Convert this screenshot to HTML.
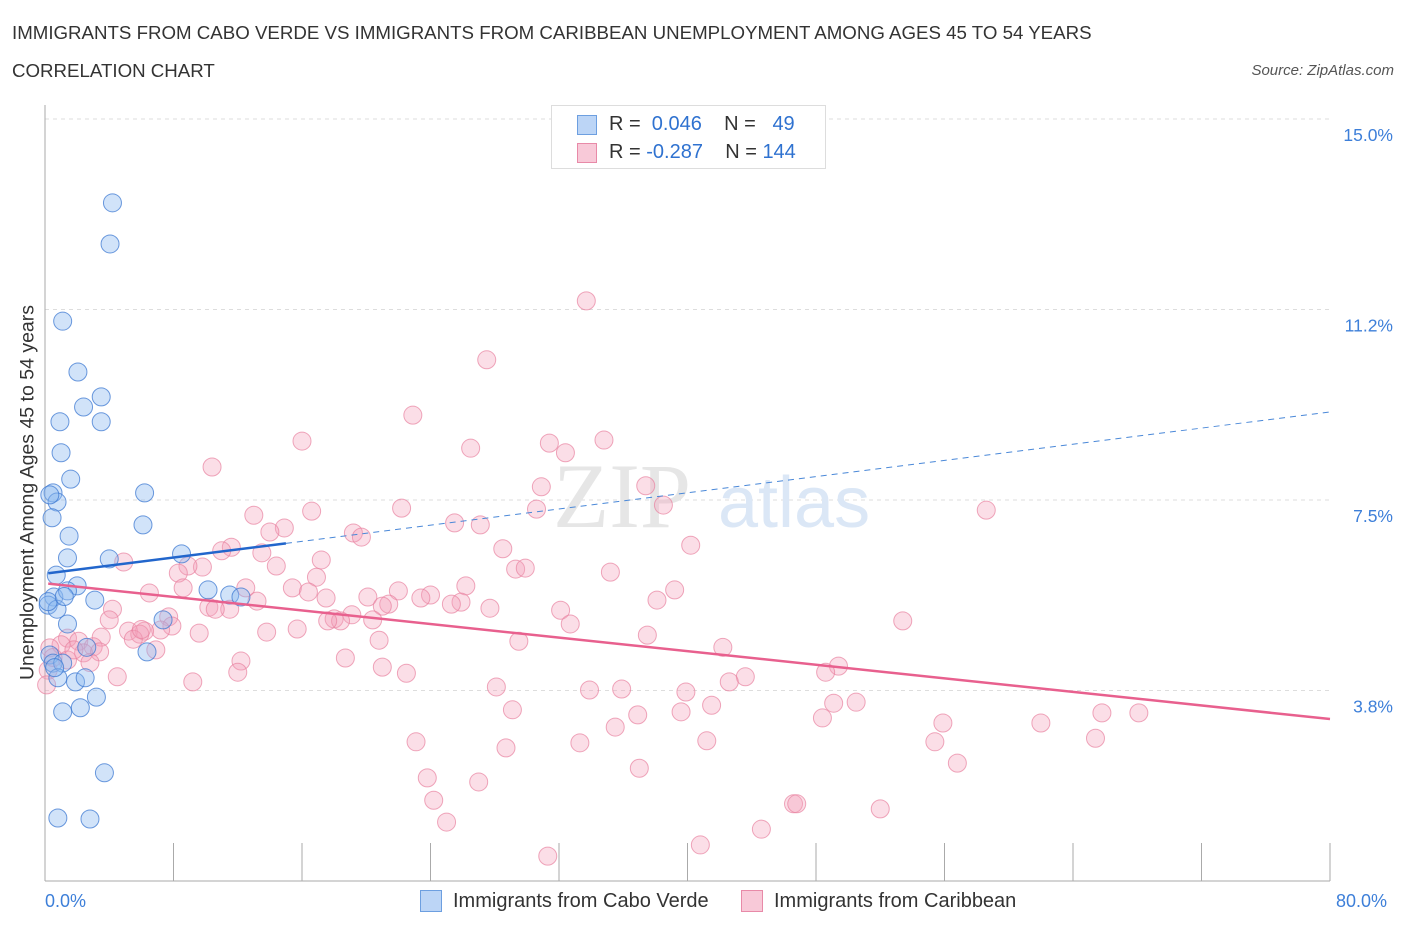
<!DOCTYPE html>
<html><head><meta charset="utf-8">
<style>
body{margin:0;background:#fff;font-family:"Liberation Sans",sans-serif;}
#wrap{position:relative;width:1406px;height:930px;overflow:hidden;}
.t{position:absolute;white-space:nowrap;}
</style></head>
<body>
<div id="wrap">
<div class="t" style="left:12px;top:22px;font-size:18.7px;color:#333;">IMMIGRANTS FROM CABO VERDE VS IMMIGRANTS FROM CARIBBEAN UNEMPLOYMENT AMONG AGES 45 TO 54 YEARS</div>
<div class="t" style="left:12px;top:60px;font-size:18.7px;color:#333;">CORRELATION CHART</div>
<div class="t" style="right:12px;top:62px;font-size:15px;color:#555;font-style:italic;">Source: ZipAtlas.com</div>
<svg id="svg" width="1406" height="930" style="position:absolute;left:0;top:0"></svg>
</div>
<script>
const blueX=[4.2,4.05,1.1,2.05,3.5,2.4,0.93,3.5,1.0,1.6,0.5,0.75,6.2,0.44,6.1,1.5,1.4,4.0,8.5,0.7,2.0,0.55,1.4,3.1,10.15,11.5,12.2,0.2,0.75,1.4,7.35,6.35,0.3,2.6,0.5,1.1,0.8,1.9,2.5,3.2,1.1,2.2,3.7,0.8,2.8,0.2,0.6,0.3,1.2];
const blueY=[13.35,12.54,11.02,10.02,9.53,9.33,9.04,9.04,8.43,7.91,7.64,7.46,7.64,7.15,7.01,6.79,6.36,6.34,6.44,6.02,5.81,5.59,5.71,5.53,5.73,5.63,5.59,5.43,5.35,5.06,5.14,4.51,4.45,4.6,4.29,4.29,4.0,3.92,4.0,3.62,3.33,3.41,2.13,1.24,1.22,5.5,4.2,7.6,5.6];
const pinkX=[33.7,27.5,22.9,16.0,31.4,34.8,26.5,10.4,32.4,30.9,37.4,38.5,22.2,16.6,13.0,30.6,58.6,25.5,27.1,14.9,14.0,19.2,19.7,11.6,11.0,13.5,40.2,28.5,17.2,4.9,14.4,9.8,8.9,29.3,29.9,35.2,8.3,16.9,8.6,12.5,15.4,26.2,39.2,16.4,6.5,22.0,24.0,20.1,23.4,17.5,13.2,38.1,25.9,25.3,21.4,21.0,10.2,11.5,10.6,4.2,27.7,32.1,19.1,7.7,18.0,18.4,17.6,20.4,4.0,53.4,32.7,7.9,7.2,5.2,6.2,13.8,15.7,9.6,5.9,37.5,3.5,5.5,1.4,2.1,29.5,20.8,1.0,3.0,42.2,6.9,2.4,0.3,3.4,18.7,1.4,12.2,49.4,48.6,21.0,12.0,22.5,4.5,43.6,42.6,9.2,28.1,33.9,35.9,39.9,49.1,50.5,41.5,29.1,39.6,36.9,65.8,68.1,48.4,55.9,35.5,62.0,65.4,55.4,23.1,41.2,33.3,28.7,56.8,37.0,23.8,27.0,24.2,46.6,46.8,52.0,25.0,44.6,40.8,31.3,0.2,0.1,0.5,1.8,2.8,6.0];
const pinkY=[11.42,10.26,9.17,8.66,8.62,8.68,8.52,8.15,8.43,7.76,7.78,7.4,7.34,7.28,7.2,7.32,7.3,7.05,7.01,6.95,6.87,6.85,6.77,6.57,6.5,6.46,6.61,6.54,6.32,6.28,6.2,6.18,6.2,6.14,6.16,6.08,6.06,5.98,5.77,5.77,5.77,5.81,5.73,5.69,5.67,5.71,5.63,5.59,5.57,5.57,5.51,5.53,5.49,5.45,5.45,5.41,5.39,5.35,5.35,5.35,5.37,5.33,5.24,5.2,5.16,5.12,5.12,5.14,5.14,5.12,5.06,5.02,4.94,4.92,4.92,4.9,4.96,4.88,4.86,4.84,4.8,4.76,4.78,4.72,4.72,4.74,4.65,4.61,4.6,4.55,4.49,4.59,4.51,4.39,4.35,4.33,4.23,4.11,4.21,4.11,4.09,4.02,4.02,3.92,3.92,3.82,3.76,3.78,3.72,3.5,3.52,3.46,3.37,3.33,3.27,3.31,3.31,3.21,3.11,3.03,3.11,2.81,2.74,2.74,2.76,2.72,2.62,2.32,2.22,2.03,1.95,1.59,1.52,1.52,1.42,1.16,1.02,0.71,0.49,4.15,3.86,4.4,4.55,4.3,4.95];
const yTicks=[3.75,7.5,11.25,15];
const yTickLabels=["3.8%","7.5%","11.2%","15.0%"];
const blueTrend=[6.05,0.0398];
const pinkTrend=[5.86,-0.0334];

const X0=45,X1=1330,YB=881,PPU=50.8;
const xs=v=>X0+(X1-X0)*v/80;
const ys=v=>YB-v*PPU;
const svg=document.getElementById('svg');
const NS='http://www.w3.org/2000/svg';
function mk(tag,attrs){const e=document.createElementNS(NS,tag);for(const k in attrs)e.setAttribute(k,attrs[k]);svg.appendChild(e);return e;}

yTicks.forEach((t,i)=>{
  const g=mk('line',{x1:X0,x2:X1,y1:ys(t),y2:ys(t),stroke:'#ddd','stroke-dasharray':'4,4'});
  
  
  const tx=mk('text',{x:1393,y:ys(t)+22,'text-anchor':'end','font-size':17.5,fill:'#3d7fd9','font-family':'Liberation Sans, sans-serif'});
  tx.textContent=yTickLabels[i];
  
  
});
const ax=mk('line',{x1:X0,x2:X0,y1:105,y2:YB,stroke:'#aaa'});


const bx=mk('line',{x1:X0,x2:X1,y1:YB,y2:YB,stroke:'#aaa'});


for(let i=0;i<=10;i++){
  const tk=mk('line',{x1:xs(i*8),x2:xs(i*8),y1:YB,y2:YB-38,stroke:'#aaa'});
  
  
}
const wm=mk('text',{x:553,y:527,'font-size':92,fill:'#e6e6e6','font-family':'Liberation Serif, serif'});
wm.textContent='ZIP';


const wm2=mk('text',{x:718,y:527,'font-size':72,fill:'#dbe7f6','font-family':'Liberation Sans, sans-serif'});
wm2.textContent='atlas';



pinkX.forEach((x,i)=>{
  const c=mk('circle',{cx:xs(x),cy:ys(pinkY[i]),r:9,fill:'rgba(244,160,185,0.35)',stroke:'rgba(232,130,160,0.7)','stroke-width':1});
  
  
});
blueX.forEach((x,i)=>{
  const c=mk('circle',{cx:xs(x),cy:ys(blueY[i]),r:9,fill:'rgba(140,185,240,0.4)',stroke:'rgba(60,120,210,0.75)','stroke-width':1});
  
  
});
const bl=mk('line',{x1:xs(0.2),y1:ys(blueTrend[0]+blueTrend[1]*0.2),x2:xs(15),y2:ys(blueTrend[0]+blueTrend[1]*15),stroke:'#2266cc','stroke-width':2.5});


const bd=mk('line',{x1:xs(15),y1:ys(blueTrend[0]+blueTrend[1]*15),x2:xs(80),y2:ys(blueTrend[0]+blueTrend[1]*80),stroke:'#4a88d8','stroke-width':1,'stroke-dasharray':'6,5'});


const pl=mk('line',{x1:xs(0.2),y1:ys(pinkTrend[0]+pinkTrend[1]*0.2),x2:xs(80),y2:ys(pinkTrend[0]+pinkTrend[1]*80),stroke:'#e8608e','stroke-width':2.5});


</script>
<div class="t" style="left:-172px;top:481px;transform:rotate(-90deg);font-size:19.5px;color:#333;width:400px;text-align:center;">Unemployment Among Ages 45 to 54 years</div>
<div class="t" style="left:45px;top:891px;font-size:18px;color:#3d7fd9;">0.0%</div>
<div class="t" style="left:1336px;top:891px;font-size:18px;color:#3d7fd9;">80.0%</div>
<div style="position:absolute;left:551px;top:105px;width:273px;height:62px;border:1px solid #ddd;background:#fff;font-size:20px;">
  <div style="position:absolute;left:25px;top:9px;width:18px;height:18px;background:#bcd5f6;border:1px solid #6d9fe0;"></div>
  <div class="t" style="left:57px;top:7px;color:#333">R = <span style="color:#2f72d0">&nbsp;0.046</span>&nbsp;&nbsp;&nbsp;&nbsp;N = &nbsp;&nbsp;<span style="color:#2f72d0">49</span></div>
  <div style="position:absolute;left:25px;top:37px;width:18px;height:18px;background:#f8c9d8;border:1px solid #e88aa8;"></div>
  <div class="t" style="left:57px;top:35px;color:#333">R = <span style="color:#2f72d0">-0.287</span>&nbsp;&nbsp;&nbsp;&nbsp;N = <span style="color:#2f72d0">144</span></div>
</div>
<div style="position:absolute;left:420px;top:890px;width:20px;height:20px;background:#bcd5f6;border:1px solid #6d9fe0;"></div>
<div class="t" style="left:453px;top:890px;font-size:20px;color:#333">Immigrants from Cabo Verde</div>
<div style="position:absolute;left:741px;top:890px;width:20px;height:20px;background:#f8c9d8;border:1px solid #e88aa8;"></div>
<div class="t" style="left:774px;top:890px;font-size:20px;color:#333">Immigrants from Caribbean</div>
</body></html>
